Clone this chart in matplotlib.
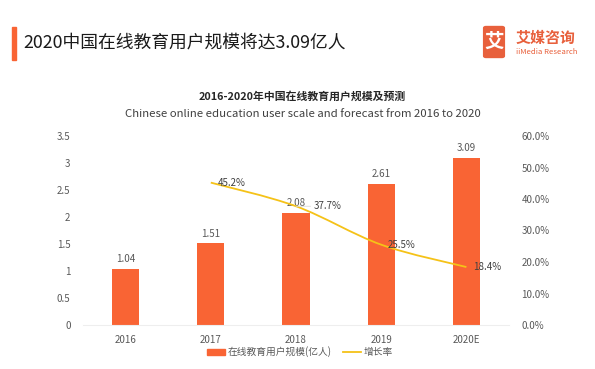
import matplotlib
matplotlib.use("Agg")
import matplotlib.pyplot as plt
from matplotlib.patches import FancyBboxPatch, Rectangle, PathPatch
from matplotlib.path import Path
from matplotlib.lines import Line2D
import numpy as np

plt.rcParams['font.family'] = ['Noto Sans CJK SC', 'DejaVu Sans']

categories = ["2016", "2017", "2018", "2019", "2020E"]
users = [1.04, 1.51, 2.08, 2.61, 3.09]
growth_years = ["2017", "2018", "2019", "2020E"]
growth = [0.452, 0.377, 0.255, 0.184]
growth_labels = ["45.2%", "37.7%", "25.5%", "18.4%"]
left_ticks = [0, 0.5, 1, 1.5, 2, 2.5, 3, 3.5]
left_tick_labels = ["0", "0.5", "1", "1.5", "2", "2.5", "3", "3.5"]
right_ticks = [0, 0.1, 0.2, 0.3, 0.4, 0.5, 0.6]
right_tick_labels = ["0.0%", "10.0%", "20.0%", "30.0%", "40.0%", "50.0%", "60.0%"]

BAR = "#F96434"
LINE = "#F5C218"
TICK = "#595959"

W, H = 595, 369
fig = plt.figure(figsize=(W / 100, H / 100), dpi=100)
fig.patch.set_facecolor("white")

ax = fig.add_axes([83 / W, 1 - 325 / H, (509 - 83) / W, (325 - 136) / H])
x = np.arange(len(categories))
ax.bar(x, users, width=0.32, color=BAR, zorder=2)
for xi, v in zip(x, users):
    ax.annotate(f"{v:.2f}", (xi, v), xytext=(0, 3.5), textcoords="offset points",
                ha="center", va="bottom", fontsize=7, color=TICK)
ax.set_xlim(-0.5, len(categories) - 0.5)
ax.set_ylim(0, 3.5)
ax.set_yticks(left_ticks)
ax.set_yticklabels(left_tick_labels)
ax.set_xticks(x)
ax.set_xticklabels(categories)
ax.tick_params(axis="y", length=0, pad=9, labelsize=7, labelcolor=TICK)
ax.tick_params(axis="x", length=0, pad=7, labelsize=7, labelcolor=TICK)
for s in ["top", "right", "left"]:
    ax.spines[s].set_visible(False)
ax.spines["bottom"].set_color("#EEEEEE")
ax.spines["bottom"].set_linewidth(0.8)

ax2 = ax.twinx()
ax2.set_ylim(0, 0.6)
ax2.set_yticks(right_ticks)
ax2.set_yticklabels(right_tick_labels)
ax2.tick_params(axis="y", length=0, pad=9, labelsize=7, labelcolor=TICK)
for lab in ax2.get_yticklabels():
    lab.set_ha("left")
for s in ["top", "right", "left", "bottom"]:
    ax2.spines[s].set_visible(False)

# smooth line (Catmull-Rom -> cubic Bezier) through growth points
gx = [categories.index(c) for c in growth_years]
pts = list(zip(gx, growth))
verts = [pts[0]]
codes = [Path.MOVETO]
for i in range(len(pts) - 1):
    p0 = pts[i - 1] if i > 0 else pts[i]
    p1 = pts[i]
    p2 = pts[i + 1]
    p3 = pts[i + 2] if i + 2 < len(pts) else pts[i + 1]
    t = 0.5 / 3
    c1 = (p1[0] + (p2[0] - p0[0]) * t, p1[1] + (p2[1] - p0[1]) * t)
    c2 = (p2[0] - (p3[0] - p1[0]) * t, p2[1] - (p3[1] - p1[1]) * t)
    verts += [c1, c2, p2]
    codes += [Path.CURVE4] * 3
ax2.add_patch(PathPatch(Path(verts, codes), facecolor="none", edgecolor=LINE,
                        lw=1.3, zorder=3))
label_dx = [5, 12.5, 5, 5]
for xi, v, lab, dx in zip(gx, growth, growth_labels, label_dx):
    if dx > 6:
        ax2.annotate(lab, (xi, v), xytext=(dx, 0), textcoords="offset points",
                     ha="left", va="center", fontsize=7, color="#404040",
                     arrowprops=dict(arrowstyle="-", color="#D9D9D9", lw=0.6,
                                     shrinkA=0, shrinkB=0))
    else:
        ax2.annotate(lab, (xi, v), xytext=(dx, 0), textcoords="offset points",
                     ha="left", va="center", fontsize=7, color="#404040")

# titles
fig.add_artist(Rectangle((12 / W, 1 - 60 / H), 4 / W, 33 / H, color=BAR,
                         transform=fig.transFigure))
fig.text(23 / W, 1 - 43 / H, "2020中国在线教育用户规模将达3.09亿人", fontsize=12.8,
         color="#1a1a1a", va="center", ha="left")
fig.text(302 / W, 1 - 96 / H, "2016-2020年中国在线教育用户规模及预测", fontsize=7.8,
         fontweight="bold", color="#262626", ha="center", va="center")
fig.text(303 / W, 1 - 114 / H,
         "Chinese online education user scale and forecast from 2016 to 2020",
         fontsize=8.2, color="#404040", ha="center", va="center")

# logo
fig.add_artist(FancyBboxPatch((486 / W, 1 - 56 / H), 16 / W, 28 / H,
                              boxstyle="round,pad=0.004", color="#E8603C",
                              transform=fig.transFigure))
fig.text(494 / W, 1 - 42 / H, "艾", fontsize=14, fontweight="bold", color="white",
         ha="center", va="center")
fig.text(516 / W, 1 - 38 / H, "艾媒咨询", fontsize=10.8, fontweight="bold",
         color="#E8603C", ha="left", va="center")
fig.text(516 / W, 1 - 51.5 / H, "iiMedia Research", fontsize=5.6, color="#E8603C",
         ha="left", va="center")

# legend
handles = [Rectangle((0, 0), 1, 1, color=BAR),
           Line2D([0], [0], color=LINE, lw=1.3)]
fig.legend(handles, ["在线教育用户规模(亿人)", "增长率"], loc="center",
           bbox_to_anchor=(300 / W, 1 - 352 / H), ncol=2, frameon=False,
           fontsize=7, handlelength=1.8, handletextpad=0.3, columnspacing=1.2,
           labelcolor=TICK)

fig.savefig("out.png", dpi=100)
